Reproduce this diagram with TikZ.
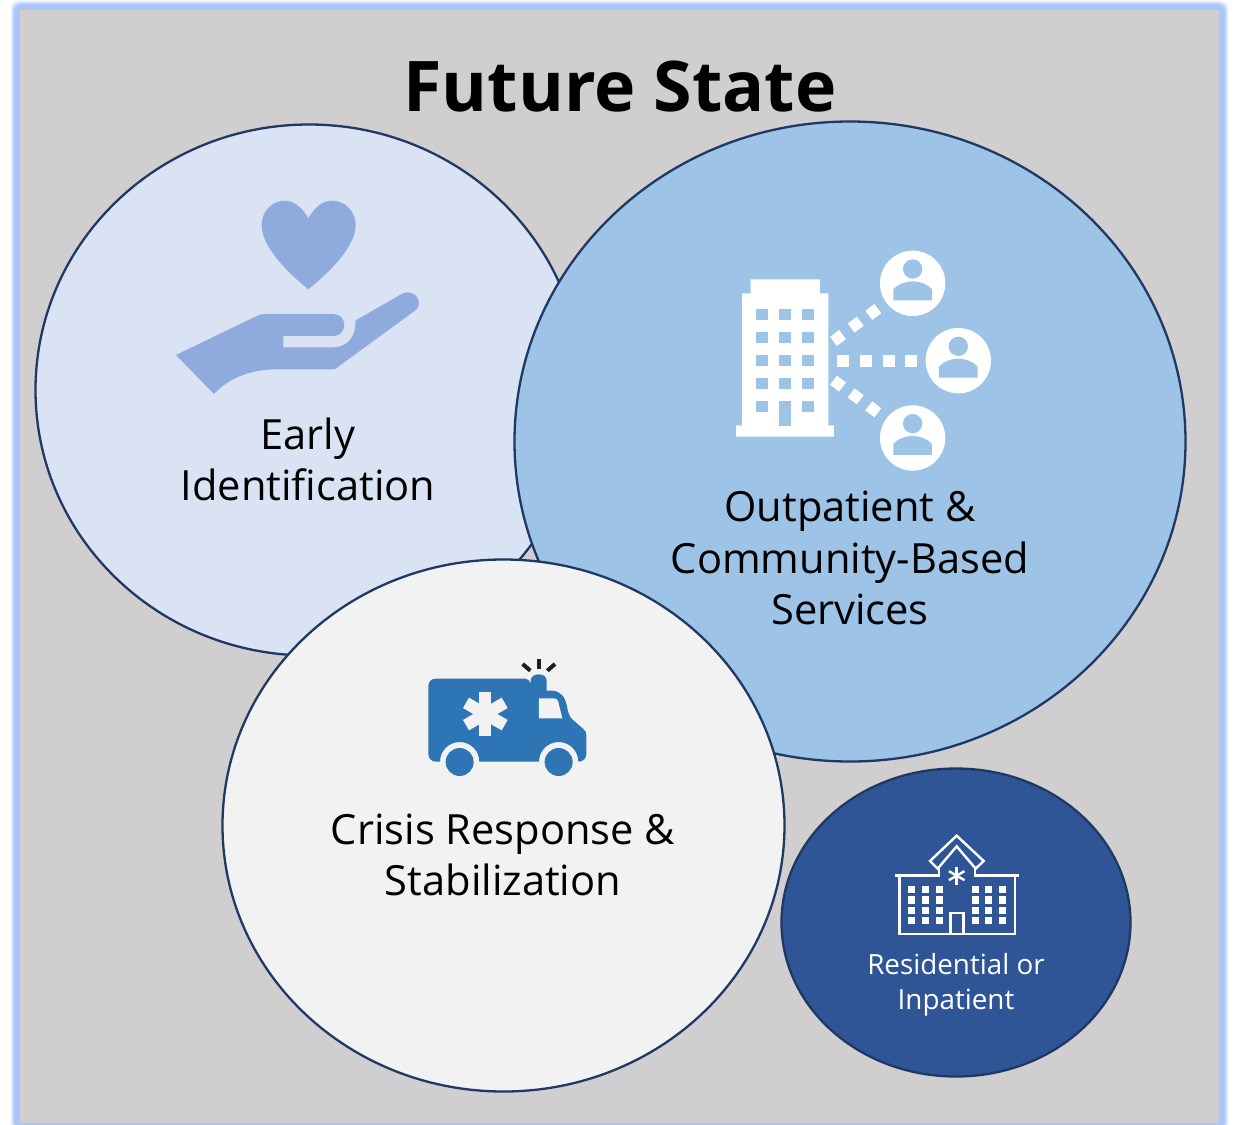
\documentclass[tikz,border=0pt]{standalone}
\usepackage{fontspec}
\setmainfont{Open Sans}
\definecolor{panel}{HTML}{D0CECE}
\definecolor{glowc}{HTML}{A8C6FA}
\definecolor{earlyc}{HTML}{DAE3F3}
\definecolor{handc}{HTML}{8FAADC}
\definecolor{outc}{HTML}{9DC3E6}
\definecolor{crisisc}{HTML}{F2F2F2}
\definecolor{resc}{HTML}{2F5597}
\definecolor{edgec}{HTML}{1F3864}
\definecolor{ambc}{HTML}{2E75B6}
\definecolor{rayc}{HTML}{1F1F1F}
\tikzset{
  bubble/.style={draw=edgec,line width=2.3pt},
  label/.style={align=center,inner sep=0pt,font=\fontsize{41.6}{51.7}\selectfont,text=black},
  zoomed/.style={x=0.3333pt,y=-0.3333pt},
}
\newcommand{\persona}[2]{%
  \fill[white] (#1,#2) circle[radius=98];
  \fill[outc] (#1,#2-43) circle[radius=29];
  \fill[outc] (#1-58,#2+51) -- (#1+58,#2+51) -- (#1+58,#2+18) .. controls (#1+45,#2+2) and (#1+20,#2-6) .. (#1,#2-6) .. controls (#1-20,#2-6) and (#1-45,#2+2) .. (#1-58,#2+18) -- cycle;
}
\begin{document}
\begin{tikzpicture}[x=1pt,y=-1pt]
\useasboundingbox (0,0) rectangle (1235,1125);
\fill[white] (0,0) rectangle (1235,1125);
% glow
\foreach \d/\o in {10/8,9/18,8/32,7/50,6/72,5/100}{
  \fill[glowc,opacity=\o/100,rounded corners=8pt] (20-\d,10-\d) rectangle (1219+\d,1123+\d);
}
\fill[panel] (20,10) rectangle (1219,1123);
\node[inner sep=0pt,font=\fontsize{69.9}{80}\selectfont\bfseries] (title) at (620,87) {Future State};
% bubbles
\path[bubble,fill=earlyc] (309,390) ellipse[x radius=273.5,y radius=265.5];
\path[bubble,fill=outc] (850,441.5) ellipse[x radius=335.5,y radius=320];
\path[bubble,fill=crisisc] (503.5,825.5) ellipse[x radius=281,y radius=266];
\path[bubble,fill=resc] (956,922.5) ellipse[x radius=174.5,y radius=154];
% hand and heart
\begin{scope}[shift={(160,190)},zoomed]
  \fill[handc] (445,85) .. controls (425,50) and (400,32) .. (375,32) .. controls (335,32) and (305,65) .. (305,105) .. controls (305,170) and (380,245) .. (445,298) .. controls (510,245) and (587,170) .. (587,105) .. controls (587,65) and (557,32) .. (515,32) .. controls (490,32) and (465,50) .. (445,85) -- cycle;
  \fill[handc] (48,495) -- (290,378) .. controls (298,374) and (305,372) .. (315,372) -- (520,372) .. controls (540,372) and (553,387) .. (553,405) .. controls (553,423) and (540,438) .. (520,438) -- (370,438) -- (370,472) -- (520,472) .. controls (560,472) and (590,440) .. (586,392) -- (725,312) .. controls (748,298) and (777,315) .. (777,340) .. controls (777,350) and (772,357) .. (765,362) -- (535,530) .. controls (530,535) and (527,538) .. (520,538) -- (350,538) .. controls (280,538) and (210,560) .. (162,612) -- cycle;
\end{scope}
% building and people
\begin{scope}[shift={(720,240)},zoomed]
  \fill[white] (92,118) -- (300,118) -- (300,160) -- (325,160) -- (325,556) -- (342,556) -- (342,590) -- (48,590) -- (48,556) -- (66,556) -- (66,160) -- (92,160) -- cycle;
  \foreach \wx in {109,178,247}{\foreach \wy in {207,276,345,414}{
    \fill[outc] (\wx,\wy) rectangle ++(34,34);
  }}
  \fill[outc] (109,483) rectangle ++(34,34);
  \fill[outc] (247,483) rectangle ++(34,34);
  \fill[outc] (178,483) rectangle (212,559);
  \persona{578}{130}
  \persona{715}{362}
  \persona{578}{594}
  \foreach \sx in {369,438,507,573}{
    \fill[white] (\sx-18,344) rectangle (\sx+18,380);
  }
  \foreach \sx/\sy in {354/294,407/254,460/216}{
    \fill[white,rotate around={37:(\sx,\sy)}] (\sx-17,\sy-17) rectangle (\sx+17,\sy+17);
  }
  \foreach \sx/\sy in {354/431,407/469,460/508}{
    \fill[white,rotate around={-37:(\sx,\sy)}] (\sx-17,\sy-17) rectangle (\sx+17,\sy+17);
  }
\end{scope}
% ambulance
\begin{scope}[shift={(415,650)},zoomed]
  \fill[ambc] (40,108) .. controls (40,95) and (50,86) .. (62,86) -- (328,86) .. controls (338,86) and (345,92) .. (347,103) -- (347,92) .. controls (347,80) and (358,73) .. (371,73) .. controls (385,73) and (395,80) .. (395,92) -- (395,122) -- (410,122) .. controls (435,122) and (450,140) .. (455,165) .. controls (460,190) and (463,200) .. (472,208) -- (503,235) .. controls (511,241) and (514,247) .. (514,255) -- (514,312) .. controls (514,325) and (505,335) .. (490,335) arc[start angle=0,end angle=-180,x radius=59,y radius=59] -- (193,335) arc[start angle=0,end angle=-180,x radius=59,y radius=59] -- (62,335) .. controls (50,335) and (40,325) .. (40,312) -- cycle;
  \fill[ambc] (134,336) circle[radius=42];
  \fill[ambc] (431,336) circle[radius=42];
  \fill[crisisc] (372,145) -- (418,145) .. controls (425,145) and (428,150) .. (430,156) -- (442,205) -- (372,205) -- cycle;
  \foreach \a in {90,30,-30}{
    \draw[crisisc,line width=12pt] (211,192) ++(\a:-67) -- ++(\a:134);
  }
  \draw[rayc,line width=4pt] (371,27) -- (371,56);
  \draw[rayc,line width=4pt] (323,42) -- (346,62);
  \draw[rayc,line width=4pt] (420,42) -- (397,62);
\end{scope}
% hospital
\begin{scope}[shift={(885,825)},zoomed]
  \begin{scope}[white,line width=2.4pt]
    \draw[miter limit=10] (215,32) -- (296,108) -- (272,131) -- (215,64) -- (158,131) -- (135,108) -- cycle;
    \draw (162,130) -- (162,152) -- (31,152);
    \draw (270,130) -- (270,152) -- (401,152);
    \draw (44,152) -- (44,327) -- (390,327) -- (390,152);
    \draw (197,327) -- (197,264) -- (235,264) -- (235,327);
    \foreach \a in {90,30,-30}{
      \draw (215,152) ++(\a:-27) -- ++(\a:54);
    }
  \end{scope}
  \foreach \wx in {80,122,163,271,310,352}{\foreach \wy in {193,225,257,287}{
    \fill[white] (\wx-11,\wy-11) rectangle (\wx+11,\wy+11);
  }}
\end{scope}
% labels
\node[label] (early) at (308,459.5) {Early\\Identification};
\node[label] (outp) at (850,558) {Outpatient \&\\Community-Based\\Services};
\node[label] (crisis) at (503,855) {Crisis Response \&\\Stabilization};
\node[label,text=white,font=\fontsize{27.8}{35}\selectfont] (resi) at (956,985) {Residential or\\Inpatient};
\end{tikzpicture}
\end{document}
